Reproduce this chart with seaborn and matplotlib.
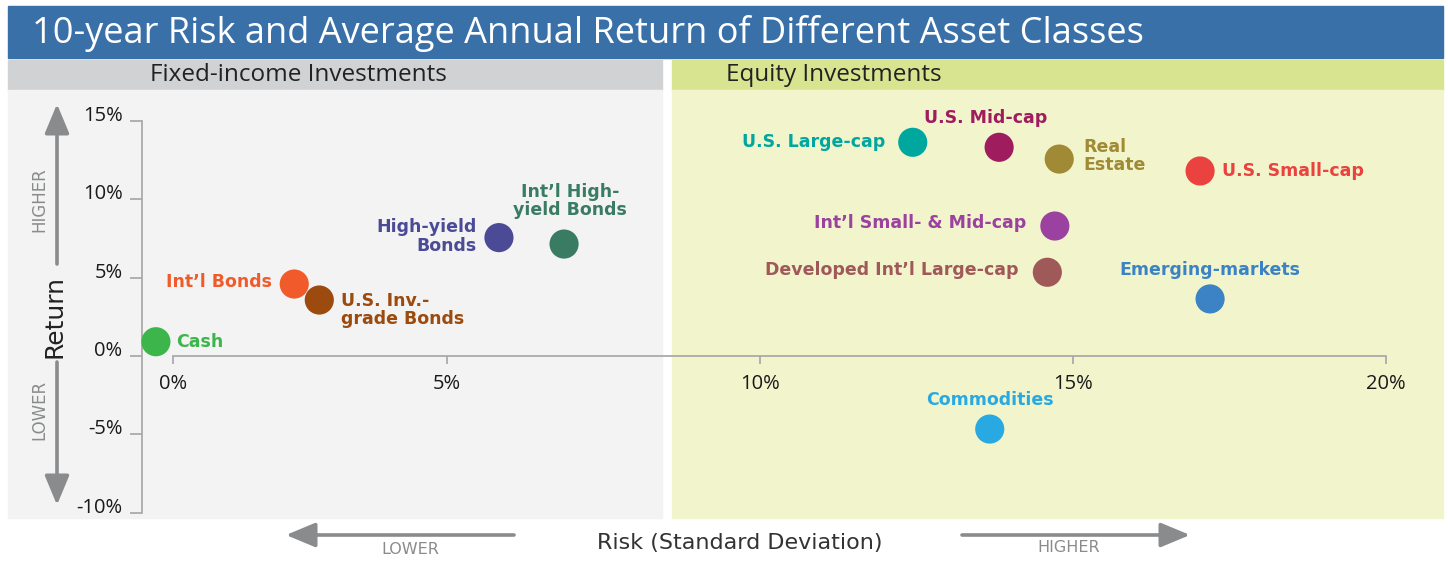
import seaborn as sns
import matplotlib.pyplot as plt
import pandas as pd
from matplotlib.patches import Rectangle, FancyArrowPatch

# data (risk = std dev %, ret = avg annual return %)
names = ["Cash", "Int'l Bonds", "U.S. Inv.-grade Bonds", "High-yield Bonds",
         "Int'l High-yield Bonds", "U.S. Large-cap", "U.S. Mid-cap", "Real Estate",
         "U.S. Small-cap", "Int'l Small- & Mid-cap", "Developed Int'l Large-cap",
         "Emerging-markets", "Commodities"]
risk = [0.35, 2.56, 2.96, 5.83, 6.87, 12.44, 13.82, 14.78, 17.03, 14.71, 14.59, 17.19, 13.67]
ret = [0.91, 4.59, 3.57, 7.55, 7.14, 13.63, 13.31, 12.56, 11.8, 8.29, 5.34, 3.64, -4.66]
colors = ["#3cb54a", "#f15a2b", "#9c4a0e", "#4b4a97", "#3a7c63", "#00a79e", "#9f1c5f",
          "#a08a35", "#e9423f", "#9b41a0", "#a05959", "#3b83c4", "#29a9e1"]
labels = ["Cash", "Int\u2019l Bonds", "U.S. Inv.-\ngrade Bonds", "High-yield\nBonds",
          "Int\u2019l High-\nyield Bonds", "U.S. Large-cap", "U.S. Mid-cap", "Real\nEstate",
          "U.S. Small-cap", "Int\u2019l Small- & Mid-cap", "Developed Int\u2019l Large-cap",
          "Emerging-markets", "Commodities"]
# label placement: (dx px, dy px, ha)
label_pos = [(20, 0, "left"), (-22, -2, "right"), (22, 10, "left"),
             (-22, -1, "right"), (6, -43, "center"), (-27, 0, "right"),
             (-14, -29, "center"), (24, -3, "left"), (22, 0, "left"),
             (-29, -3, "right"), (-29, -2, "right"), (0, -29, "center"),
             (0, -29, "center")]

x_ticks = [0.62, 5, 10, 15, 20]
x_ticklabels = ["0%", "5%", "10%", "15%", "20%"]
y_ticks = [-10, -5, 0, 5, 10, 15]
y_ticklabels = ["-10%", "-5%", "0%", "5%", "10%", "15%"]

df = pd.DataFrame({"name": names, "risk": risk, "ret": ret})

W, H = 1448, 573
sns.set_style("white")
plt.rcParams["font.family"] = ["Open Sans", "DejaVu Sans"]

fig = plt.figure(figsize=(W / 100, H / 100), dpi=100)


def fx(px):
    return px / W


def fy(py):
    return 1 - py / H


def box(x0, y0, x1, y1, color):
    fig.patches.append(Rectangle((fx(x0), fy(y1)), fx(x1) - fx(x0), fy(y0) - fy(y1),
                                 transform=fig.transFigure, color=color, zorder=-5))


# background blocks
box(8, 6, 1443, 58, "#3a70a8")
box(8, 60, 662, 90, "#d1d2d4")
box(672, 60, 1443, 90, "#d8e490")
box(8, 90, 662, 518, "#f2f3f2")
box(672, 90, 1443, 518, "#f2f5cc")

fig.text(fx(32), fy(33), "10-year Risk and Average Annual Return of Different Asset Classes",
         color="white", fontsize=26, va="center", ha="left", fontweight="medium")
fig.text(fx(298), fy(75), "Fixed-income Investments", color="#222222", fontsize=17.5,
         va="center", ha="center")
fig.text(fx(726), fy(75), "Equity Investments", color="#222222", fontsize=17.5,
         va="center", ha="left")

# axes: px per % -> 62.6 on x (0 at 134px), 15.68 on y (0 at 356px)
left_px, right_px, top_px, bot_px = 142, 1405, 100, 518
ax = fig.add_axes([fx(left_px), fy(bot_px), fx(right_px) - fx(left_px), fy(top_px) - fy(bot_px)])
ax.set_zorder(2)
ax.patch.set_visible(False)
ax.set_xlim((left_px - 134) / 62.6, (right_px - 134) / 62.6)
ax.set_ylim((356 - bot_px) / 15.68, (356 - top_px) / 15.68)

sns.scatterplot(data=df, x="risk", y="ret", hue="name", palette=dict(zip(names, colors)),
                s=440, linewidth=0, legend=False, ax=ax, zorder=3, clip_on=False)

lab_font = ["DejaVu Sans"]
for i in range(len(names)):
    dx, dy, ha = label_pos[i]
    ax.annotate(labels[i], (risk[i], ret[i]), xytext=(dx * 0.72, -dy * 0.72),
                textcoords="offset points", ha=ha, va="center", color=colors[i],
                fontsize=12.5, fontweight="bold", linespacing=1.05, family=lab_font)

spine_c = "#a9aaac"
for s in ["top", "right"]:
    ax.spines[s].set_visible(False)
ax.spines["left"].set_bounds(-10, 15)
ax.spines["bottom"].set_position(("data", 0))
ax.spines["bottom"].set_bounds(x_ticks[0], 20)
for s in ["left", "bottom"]:
    ax.spines[s].set_color(spine_c)
    ax.spines[s].set_linewidth(1.3)
ax.set_xticks(x_ticks, x_ticklabels)
ax.set_yticks(y_ticks, y_ticklabels)
ax.tick_params(axis="both", colors=spine_c, labelcolor="#1a1a1a", labelsize=14.5,
               length=6, width=1.3, direction="out", left=True, bottom=True)
ax.tick_params(axis="x", pad=7)
ax.tick_params(axis="y", pad=5, length=9)
for t in ax.get_yticklabels():
    t.set_va("baseline")
ax.set_xlabel("")
ax.set_ylabel("")

# axis titles and direction arrows
arrow_c = "#8a8b8d"
aprops = dict(arrowstyle="-|>,head_length=1.8,head_width=0.75", color=arrow_c, lw=2.6,
              shrinkA=0, shrinkB=0)


def arrow(x0, y0, x1, y1):
    fig.add_artist(FancyArrowPatch((fx(x0), fy(y0)), (fx(x1), fy(y1)),
                                   transform=fig.transFigure, zorder=3,
                                   mutation_scale=10, **aprops))


arrow(57, 264, 57, 104)
arrow(57, 362, 57, 505)
arrow(514, 535, 286, 535)
arrow(962, 535, 1190, 535)

fig.text(fx(55), fy(316), "Return", rotation=90, fontsize=18, color="#222222",
         va="center", ha="center", fontweight="medium", family=lab_font)
fig.text(fx(39), fy(200), "HIGHER", rotation=90, fontsize=12, color=arrow_c,
         va="center", ha="center", family=lab_font)
fig.text(fx(39), fy(410), "LOWER", rotation=90, fontsize=12, color=arrow_c,
         va="center", ha="center", family=lab_font)
fig.text(fx(740), fy(543), "Risk (Standard Deviation)", fontsize=16, color="#333333",
         va="center", ha="center", fontweight="medium", family=lab_font)
fig.text(fx(410), fy(550), "LOWER", fontsize=11.5, color=arrow_c, va="center", ha="center",
         family=lab_font)
fig.text(fx(1069), fy(548), "HIGHER", fontsize=11.5, color=arrow_c, va="center", ha="center",
         family=lab_font)

fig.savefig("out.png", dpi=100, facecolor="white")
